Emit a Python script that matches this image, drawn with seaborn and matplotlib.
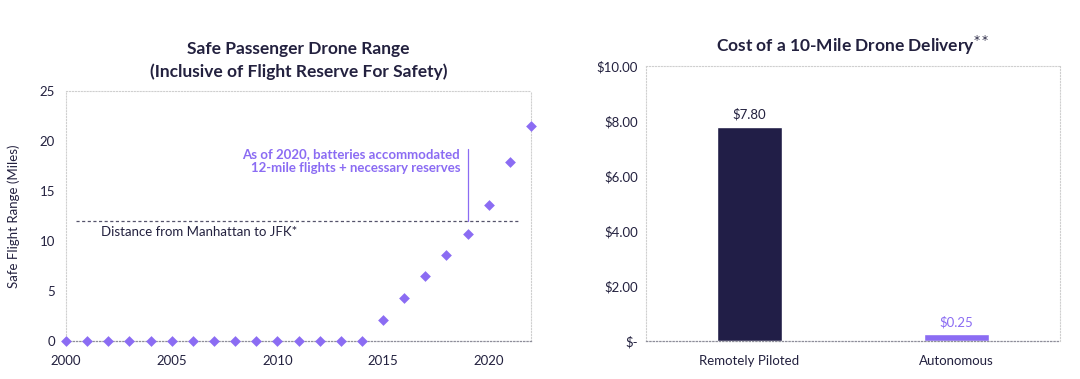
import numpy as np
import pandas as pd
import seaborn as sns
import matplotlib.pyplot as plt

# left chart data
years = list(range(2000, 2023))
safe_range = [0, 0, 0, 0, 0, 0, 0, 0, 0, 0, 0, 0, 0, 0, 0,
              2.15, 4.3, 6.5, 8.6, 10.7, 13.6, 17.9, 21.5]
jfk_distance = 12
yticks_left = [0, 5, 10, 15, 20, 25]
xticks_left = [2000, 2005, 2010, 2015, 2020]

# right chart data
delivery_types = ["Remotely Piloted", "Autonomous"]
delivery_cost = [7.80, 0.25]
cost_labels = ["$7.80", "$0.25"]
yticks_right = [0, 2, 4, 6, 8, 10]
ytick_labels_right = ["$-", "$2.00", "$4.00", "$6.00", "$8.00", "$10.00"]

dark = "#23213f"
purple = "#8b6cf3"
navy = "#211e47"

sns.set_theme(style="white")
plt.rcParams['font.family'] = ['Lato', 'DejaVu Sans']

fig = plt.figure(figsize=(10.8, 3.79), dpi=100)
ax1 = fig.add_axes([66/1080, 38/379, 465/1080, 250/379])
ax2 = fig.add_axes([646/1080, 38/379, 414/1080, 275/379])

df1 = pd.DataFrame({"year": years, "range": safe_range})
sns.scatterplot(data=df1, x="year", y="range", marker="D", s=30, color=purple,
                edgecolor=purple, linewidth=0, ax=ax1, clip_on=False, zorder=3)

ax1.plot([2000.45, 2021.5], [jfk_distance, jfk_distance], ls=(0, (2.5, 2)),
         color="#55536b", lw=0.9)
ax1.plot([2019, 2019], [jfk_distance, 19.2], color=purple, lw=0.9)
ax1.text(2001.65, 10.85, "Distance from Manhattan to JFK*", color=dark,
         fontsize=9.5, va="center", ha="left")
ax1.text(2018.65, 18.0, "As of 2020, batteries accommodated\n12-mile flights + necessary reserves",
         color=purple, fontsize=9.5, fontweight="bold", va="center", ha="right",
         linespacing=1.25)

ax1.set_xlim(2000, 2022)
ax1.set_ylim(0, 25)
ax1.set_xticks(xticks_left)
ax1.set_yticks(yticks_left)
ax1.set_xlabel("")
ax1.set_ylabel("Safe Flight Range (Miles)", color=dark, fontsize=9.5, labelpad=14)
ax1.set_title("Safe Passenger Drone Range\n(Inclusive of Flight Reserve For Safety)",
              color=dark, fontsize=12.5, fontweight="bold", linespacing=1.5, pad=10)

df2 = pd.DataFrame({"type": delivery_types, "cost": delivery_cost})
sns.barplot(data=df2, x="type", y="cost", hue="type", palette=[navy, purple],
            width=0.313, legend=False, ax=ax2, saturation=1)
for i, (c, lab) in enumerate(zip(delivery_cost, cost_labels)):
    ax2.text(i, c + 0.22, lab, ha="center", va="bottom", fontsize=9.5,
             color=dark if i == 0 else purple)
ax2.set_xlim(-0.5, 1.5)
ax2.set_ylim(0, 10)
ax2.set_yticks(yticks_right)
ax2.set_yticklabels(ytick_labels_right)
ax2.set_xlabel("")
ax2.set_ylabel("")
ax2.set_title("Cost of a 10-Mile Drone Delivery$^{**}$", color=dark, fontsize=12.5,
              fontweight="bold", pad=10)

for ax in (ax1, ax2):
    for side in ("top", "right", "left"):
        ax.spines[side].set_visible(True)
        ax.spines[side].set_color("#cfcfcf")
        ax.spines[side].set_linestyle(":")
        ax.spines[side].set_linewidth(0.8)
    ax.spines["bottom"].set_color("#8e8e9a")
    ax.spines["bottom"].set_linestyle(":")
    ax.spines["bottom"].set_linewidth(0.9)
    ax.tick_params(colors=dark, labelsize=9.5, length=0, pad=6)
ax1.tick_params(axis="y", length=3, color="#cfcfcf", width=0.6, pad=5)
ax1.tick_params(axis="x", length=3, color="#cfcfcf", width=0.6, pad=7)
ax2.tick_params(axis="x", pad=10)

fig.savefig("out.png", dpi=100)
